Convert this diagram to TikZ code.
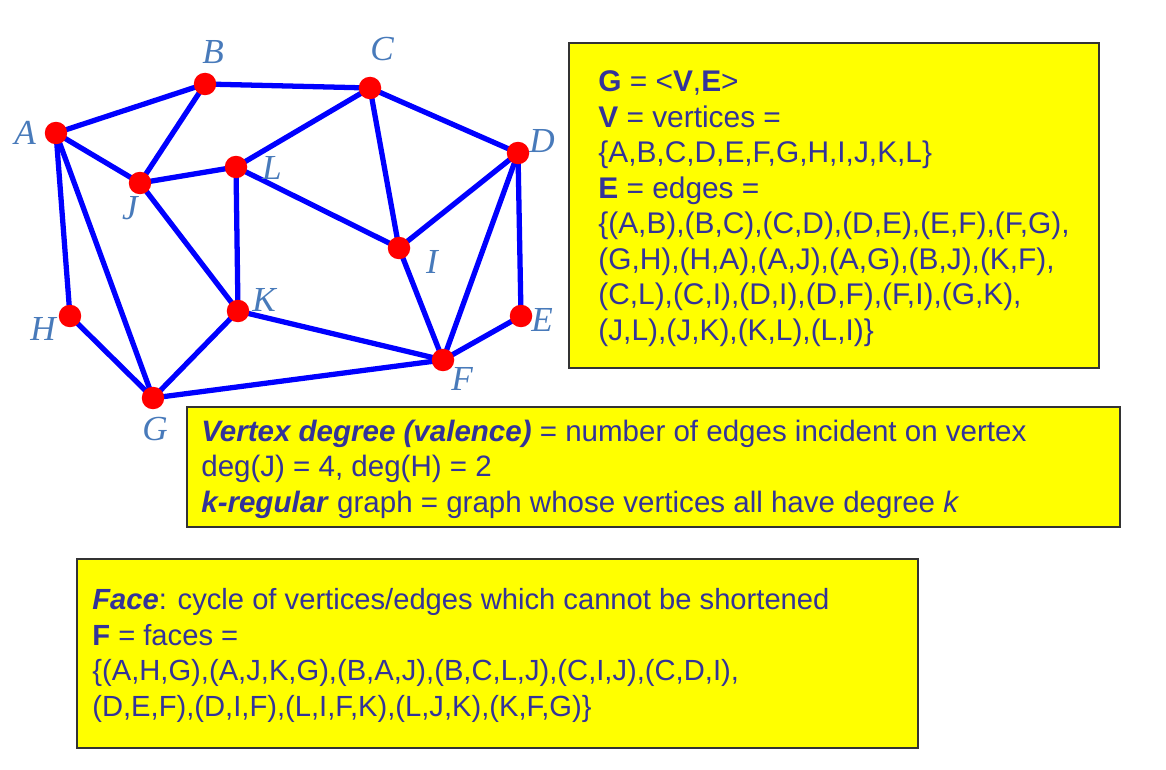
\documentclass[tikz,border=0pt]{standalone}
\usepackage{fontspec}
\setmainfont{Liberation Sans}
\newfontfamily\vlabelfont{Liberation Serif}
\usepackage{xcolor}
\usepackage{tikz}
\usetikzlibrary{positioning, backgrounds}

\definecolor{edgeblue}{RGB}{0,0,255}
\definecolor{textblue}{RGB}{51,51,153}
\definecolor{labelblue}{RGB}{72,122,186}
\definecolor{boxyellow}{RGB}{255,255,0}

\tikzset{
    vertex/.style={circle, fill=red, inner sep=0pt, minimum size=0.45cm},
    vlabel/.style={text=labelblue, inner sep=0pt, font=\vlabelfont\itshape\fontsize{20}{20}\selectfont},
    edge/.style={draw=edgeblue, line width=3pt},
    infobox/.style={draw=black!80, fill=boxyellow, line width=0.8pt},
    infotext/.style={text=textblue, inner sep=0pt, anchor=base west, align=left}
}

\begin{document}
\begin{tikzpicture}[x=0.02cm, y=-0.02cm]
        \useasboundingbox (0,0) rectangle (1166,770);

        % vertices
        \node[vertex] (A) at (56,133) {};
        \node[vertex] (B) at (205,84) {};
        \node[vertex] (C) at (370,88) {};
        \node[vertex] (D) at (518,153) {};
        \node[vertex] (E) at (521,316) {};
        \node[vertex] (F) at (443,360) {};
        \node[vertex] (G) at (153,398) {};
        \node[vertex] (H) at (70,316) {};
        \node[vertex] (I) at (399,248) {};
        \node[vertex] (J) at (140,183) {};
        \node[vertex] (K) at (238,311) {};
        \node[vertex] (L) at (236,167) {};

        % vertex names
        \node[vlabel] (labA) at (25,133) {A};
        \node[vlabel] (labB) at (213,52) {B};
        \node[vlabel] (labC) at (382,49) {C};
        \node[vlabel] (labD) at (542,141) {D};
        \node[vlabel] (labE) at (542,320) {E};
        \node[vlabel] (labF) at (462,379) {F};
        \node[vlabel] (labG) at (155,429) {G};
        \node[vlabel] (labH) at (43,329) {H};
        \node[vlabel] (labI) at (432,262) {I};
        \node[vlabel] (labJ) at (130,208) {J};
        \node[vlabel] (labK) at (264,300) {K};
        \node[vlabel] (labL) at (272,168) {L};

        % edges
        \begin{scope}[on background layer]
            \draw[edge] (A.center) -- (B.center);
            \draw[edge] (B.center) -- (C.center);
            \draw[edge] (C.center) -- (D.center);
            \draw[edge] (D.center) -- (E.center);
            \draw[edge] (E.center) -- (F.center);
            \draw[edge] (F.center) -- (G.center);
            \draw[edge] (G.center) -- (H.center);
            \draw[edge] (H.center) -- (A.center);
            \draw[edge] (A.center) -- (J.center);
            \draw[edge] (A.center) -- (G.center);
            \draw[edge] (B.center) -- (J.center);
            \draw[edge] (K.center) -- (F.center);
            \draw[edge] (C.center) -- (L.center);
            \draw[edge] (C.center) -- (I.center);
            \draw[edge] (D.center) -- (I.center);
            \draw[edge] (D.center) -- (F.center);
            \draw[edge] (F.center) -- (I.center);
            \draw[edge] (G.center) -- (K.center);
            \draw[edge] (J.center) -- (L.center);
            \draw[edge] (J.center) -- (K.center);
            \draw[edge] (K.center) -- (L.center);
            \draw[edge] (L.center) -- (I.center);
        \end{scope}

        % definition boxes (text placed by the baseline of its last line)
        \draw[infobox] (569,43) rectangle (1099,368);
        \node[infotext, font=\fontsize{17}{20.2}\selectfont] (graphdef) at (598,340) {\textbf{G} = <\textbf{V},\textbf{E}>\\
            \textbf{V} = vertices =\\
            \{A,B,C,D,E,F,G,H,I,J,K,L\}\\
            \textbf{E} = edges =\\
            \{(A,B),(B,C),(C,D),(D,E),(E,F),(F,G),\\
            (G,H),(H,A),(A,J),(A,G),(B,J),(K,F),\\
            (C,L),(C,I),(D,I),(D,F),(F,I),(G,K),\\
            (J,L),(J,K),(K,L),(L,I)\}};

        \draw[infobox] (187,407) rectangle (1120,527);
        \node[infotext, font=\fontsize{16.8}{20.2}\selectfont] (degreedef) at (201,512) {\textbf{\textit{Vertex degree (valence)}} = number of edges incident on vertex\\
            deg(J) = 4, deg(H) = 2\\
            \textbf{\textit{k-regular}} graph = graph whose vertices all have degree \textit{k}};

        \draw[infobox] (77,559) rectangle (918,748);
        \node[infotext, font=\fontsize{16.6}{20.2}\selectfont] (facedef) at (92,716) {\textbf{\textit{Face}}: cycle of vertices/edges which cannot be shortened\\
            \textbf{F} = faces =\\
            \{(A,H,G),(A,J,K,G),(B,A,J),(B,C,L,J),(C,I,J),(C,D,I),\\
            (D,E,F),(D,I,F),(L,I,F,K),(L,J,K),(K,F,G)\}};
    \end{tikzpicture}
\end{document}
